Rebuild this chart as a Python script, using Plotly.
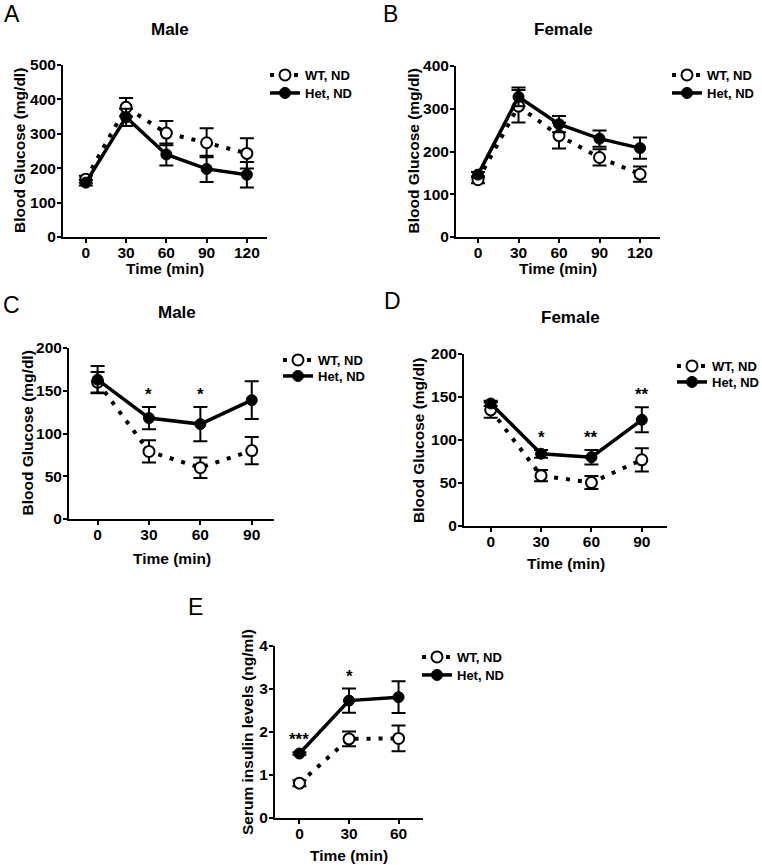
import plotly.graph_objects as go

W, H = 762, 865

# ---------------- data ----------------
A_x = [0, 30, 60, 90, 120]
A_wt = [168, 377, 302, 274, 243]
A_wt_err = [10, 27, 35, 42, 44]
A_het = [158, 348, 240, 198, 181]
A_het_err = [8, 25, 32, 38, 37]

B_x = [0, 30, 60, 90, 120]
B_wt = [134, 306, 237, 186, 147]
B_wt_err = [8, 38, 30, 19, 18]
B_het = [146, 328, 264, 230, 208]
B_het_err = [6, 22, 19, 19, 25]

C_x = [0, 30, 60, 90]
C_wt = [160, 79, 60, 80]
C_wt_err = [12, 13, 12, 16]
C_het = [163, 118, 111, 139]
C_het_err = [16, 13, 20, 22]
C_sig = ["", "*", "*", ""]

D_x = [0, 30, 60, 90]
D_wt = [135, 58.5, 50.5, 77]
D_wt_err = [9, 6.5, 7.5, 13.5]
D_het = [142.5, 84, 80, 123.5]
D_het_err = [3, 4.5, 8.5, 14.5]
D_sig = ["", "*", "**", "**"]

E_x = [0, 30, 60]
E_wt = [0.81, 1.84, 1.85]
E_wt_err = [0.07, 0.17, 0.30]
E_het = [1.50, 2.73, 2.81]
E_het_err = [0.03, 0.28, 0.37]
E_sig = ["***", "*", ""]

series_names = ["WT, ND", "Het, ND"]
x_title = "Time (min)"
glu_title = "Blood Glucose (mg/dl)"
ins_title = "Serum insulin levels (ng/ml)"

FONT = "Arial, 'Liberation Sans', sans-serif"


def px(x):
    return x / W


def py(y):
    return 1 - y / H


# panel geometry in pixels: (left, right, top, bottom)
panels = [
    dict(key="A", x=A_x, wt=A_wt, wte=A_wt_err, het=A_het, hete=A_het_err, sig=None,
         box=(63, 267, 65, 237), xr=[-17, 135], yr=[0, 500], ydt=100, title="Male",
         ytitle=glu_title, ytx=20, xty=268, titlexy=(170, 30), letter=(12, 14),
         leg=(305, 75, 93)),
    dict(key="B", x=B_x, wt=B_wt, wte=B_wt_err, het=B_het, hete=B_het_err, sig=None,
         box=(456, 660, 66, 237), xr=[-16.3, 134.8], yr=[0, 400], ydt=100, title="Female",
         ytitle=glu_title, ytx=413, xty=268, titlexy=(563, 30), letter=(390, 14),
         leg=(707, 75, 93)),
    dict(key="C", x=C_x, wt=C_wt, wte=C_wt_err, het=C_het, hete=C_het_err, sig=C_sig,
         box=(69, 274, 348, 519), xr=[-16.7, 103], yr=[0, 200], ydt=50, title="Male",
         ytitle=glu_title, ytx=27, xty=558, titlexy=(177, 312), letter=(11, 305),
         leg=(318, 360, 376)),
    dict(key="D", x=D_x, wt=D_wt, wte=D_wt_err, het=D_het, hete=D_het_err, sig=D_sig,
         box=(464, 667, 354, 526), xr=[-15.9, 105], yr=[0, 200], ydt=50, title="Female",
         ytitle=glu_title, ytx=418, xty=563, titlexy=(570, 317), letter=(392, 301),
         leg=(712, 366, 382)),
    dict(key="E", x=E_x, wt=E_wt, wte=E_wt_err, het=E_het, hete=E_het_err, sig=E_sig,
         box=(275, 423, 646, 818), xr=[-14.8, 74.8], yr=[0, 4], ydt=1, title=None,
         ytitle=ins_title, ytx=247, xty=855, titlexy=None, letter=(195, 607),
         leg=(457, 657, 675)),
]

fig = go.Figure()
annotations = []
layout_axes = {}

for i, p in enumerate(panels):
    n = i + 1
    xa = "x" if n == 1 else f"x{n}"
    ya = "y" if n == 1 else f"y{n}"
    xkey = "xaxis" if n == 1 else f"xaxis{n}"
    ykey = "yaxis" if n == 1 else f"yaxis{n}"
    l, r, t, b = p["box"]
    axis_common = dict(
        showline=True, linecolor="black", linewidth=2, ticks="outside",
        ticklen=4, tickwidth=2, tickcolor="black", showgrid=False, zeroline=False,
        tickfont=dict(family=FONT, size=15.5, color="black", weight="bold"),
        fixedrange=True,
    )
    layout_axes[xkey] = dict(domain=[px(l), px(r)], range=p["xr"], anchor=ya,
                             tickmode="array", tickvals=p["x"],
                             ticklabelstandoff=-4, **axis_common)
    layout_axes[ykey] = dict(domain=[py(b), py(t)], range=p["yr"], anchor=xa,
                             dtick=p["ydt"], tick0=0,
                             ticklabelstandoff=-2, **axis_common)

    lg_wt = f"legend{2 * i + 1}" if 2 * i + 1 > 1 else "legend"
    lg_het = f"legend{2 * i + 2}"

    # WT series: dotted line, open circles
    fig.add_trace(go.Scatter(
        x=p["x"], y=p["wt"], xaxis=xa, yaxis=ya, name=series_names[0],
        mode="lines+markers", legend=lg_wt,
        line=dict(color="black", width=4, dash="4px,8px"),
        marker=dict(symbol="circle", size=11, color="white",
                    line=dict(color="black", width=2)),
        error_y=dict(type="data", array=p["wte"], color="black", thickness=2, width=7),
    ))
    # Het series: solid line, filled circles
    fig.add_trace(go.Scatter(
        x=p["x"], y=p["het"], xaxis=xa, yaxis=ya, name=series_names[1],
        mode="lines+markers", legend=lg_het,
        line=dict(color="black", width=3.5),
        marker=dict(symbol="circle", size=11, color="black",
                    line=dict(color="black", width=1)),
        error_y=dict(type="data", array=p["hete"], color="black", thickness=2, width=7),
    ))

    legx, ly1, ly2 = p["leg"]
    for lg, yy in ((lg_wt, ly1), (lg_het, ly2)):
        layout_axes[lg] = dict(
            x=px(legx - 40), y=py(yy), xanchor="left", yanchor="middle",
            bgcolor="rgba(0,0,0,0)", borderwidth=0, itemwidth=30,
            font=dict(family=FONT, size=13, color="black", weight="bold"),
            tracegroupgap=0,
        )

    # significance markers
    if p["sig"]:
        for xv, hv, he, wv, we, s in zip(p["x"], p["het"], p["hete"], p["wt"], p["wte"], p["sig"]):
            if s:
                top = max(hv + he, wv + we)
                annotations.append(dict(
                    x=xv, y=top, xref=xa, yref=ya, text=s, showarrow=False,
                    yanchor="bottom", yshift=1,
                    font=dict(family=FONT, size=17, color="black", weight="bold"),
                ))

    # axis titles
    annotations.append(dict(
        x=px(p["ytx"]), y=py((t + b) / 2), xref="paper", yref="paper",
        text=p["ytitle"], textangle=-90, showarrow=False,
        xanchor="center", yanchor="middle",
        font=dict(family=FONT, size=15.5, color="black", weight="bold"),
    ))
    annotations.append(dict(
        x=px((l + r) / 2), y=py(p["xty"]), xref="paper", yref="paper",
        text=x_title, showarrow=False, xanchor="center", yanchor="middle",
        font=dict(family=FONT, size=15.5, color="black", weight="bold"),
    ))
    if p["title"]:
        tx, ty = p["titlexy"]
        annotations.append(dict(
            x=px(tx), y=py(ty), xref="paper", yref="paper", text=p["title"],
            showarrow=False, xanchor="center", yanchor="middle",
            font=dict(family=FONT, size=17, color="black", weight="bold"),
        ))
    lx, lyy = p["letter"]
    annotations.append(dict(
        x=px(lx), y=py(lyy), xref="paper", yref="paper", text=p["key"],
        showarrow=False, xanchor="center", yanchor="middle",
        font=dict(family=FONT, size=23, color="black"),
    ))

fig.update_layout(
    width=W, height=H,
    margin=dict(l=0, r=0, t=0, b=0, autoexpand=False),
    paper_bgcolor="white", plot_bgcolor="white",
    showlegend=True,
    annotations=annotations,
    **layout_axes,
)

fig.write_html("out.html", config={"displayModeBar": False},
               post_script="document.body.style.margin='0px';")
